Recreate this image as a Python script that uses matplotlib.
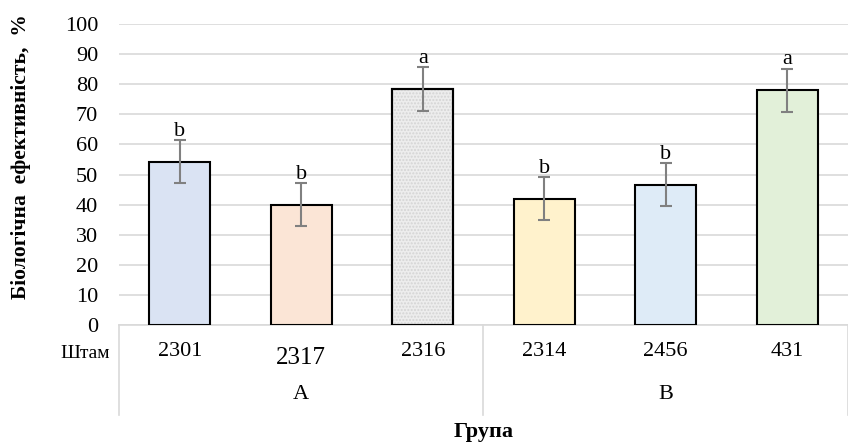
import matplotlib.pyplot as plt
from matplotlib.transforms import blended_transform_factory

plt.rcParams['font.family'] = ['Liberation Serif', 'DejaVu Serif']

strains = ['2301', '2317', '2316', '2314', '2456', '431']
groups = ['A', 'B']
group_size = [3, 3]
efficiency = [54.3, 40.0, 78.4, 42.0, 46.6, 78.0]
errors = [7.2, 7.2, 7.2, 7.2, 7.2, 7.2]
letters = ['b', 'b', 'a', 'b', 'b', 'a']
colors = ['#DAE3F3', '#FBE5D6', '#EDEDED', '#FFF2CC', '#DEEBF7', '#E2F0D9']

fig = plt.figure(figsize=(8.48, 4.42), dpi=100)
ax = fig.add_axes([0.1403, 0.2647, 0.8597, 0.681])

x = range(len(strains))
ax.bar(x, efficiency, width=0.5, color=colors, edgecolor='black', linewidth=1.5, zorder=3)
# dotted texture on the grey bar
ax.bar(2, efficiency[2], width=0.5, color='none', hatch='.....', edgecolor='#d4d4d4',
       linewidth=0, zorder=3)
ax.bar(2, efficiency[2], width=0.5, fill=False, edgecolor='black', linewidth=1.5, zorder=4)
ax.errorbar(x, efficiency, yerr=errors, fmt='none', ecolor='#808080', elinewidth=1.5,
            capsize=4, capthick=1.5, zorder=5)
for i, (v, e, t) in enumerate(zip(efficiency, errors, letters)):
    ax.text(i, v + e - 0.3, t, ha='center', va='bottom', fontsize=16)

ax.set_xlim(-0.5, len(strains) - 0.5)
ax.set_ylim(0, 100)
ax.set_yticks(range(0, 101, 10))
ax.tick_params(axis='y', length=0, labelsize=16, pad=15)
ax.tick_params(axis='x', length=0, labelbottom=False)
ax.grid(axis='y', color='#D9D9D9', linewidth=1.2, zorder=0)
for s in ['top', 'right', 'left']:
    ax.spines[s].set_visible(False)
ax.spines['bottom'].set_color('#D9D9D9')
ax.spines['bottom'].set_linewidth(1.2)
ax.spines['bottom'].set_zorder(2)

ax.set_ylabel('Біологічна  ефективність,  %', fontsize=15.5, fontweight='bold')
ax.yaxis.set_label_coords(-0.12, 0.56)

# two-level category axis
tr = blended_transform_factory(ax.transData, ax.transAxes)
for i, s in enumerate(strains):
    dy = -0.11 if s == '2317' else -0.088
    ax.text(i, dy, s, transform=tr, ha='center', va='center',
            fontsize=18 if s == '2317' else 16, clip_on=False)
ax.text(-0.012, -0.094, 'Штам', transform=ax.transAxes, ha='right', va='center', fontsize=14)

start = 0
bounds = [-0.5]
for g, n in zip(groups, group_size):
    ax.text(start + (n - 1) / 2, -0.23, g, transform=tr, ha='center', va='center', fontsize=16)
    start += n
    bounds.append(start - 0.5)
for b in bounds:
    ax.plot([b, b], [0, -0.3], transform=tr, color='#D9D9D9', linewidth=1.2, clip_on=False)

ax.text(2.5, -0.357, 'Група', transform=tr, ha='center', va='center', fontsize=16,
        fontweight='bold')

fig.savefig('out.png', dpi=100)
